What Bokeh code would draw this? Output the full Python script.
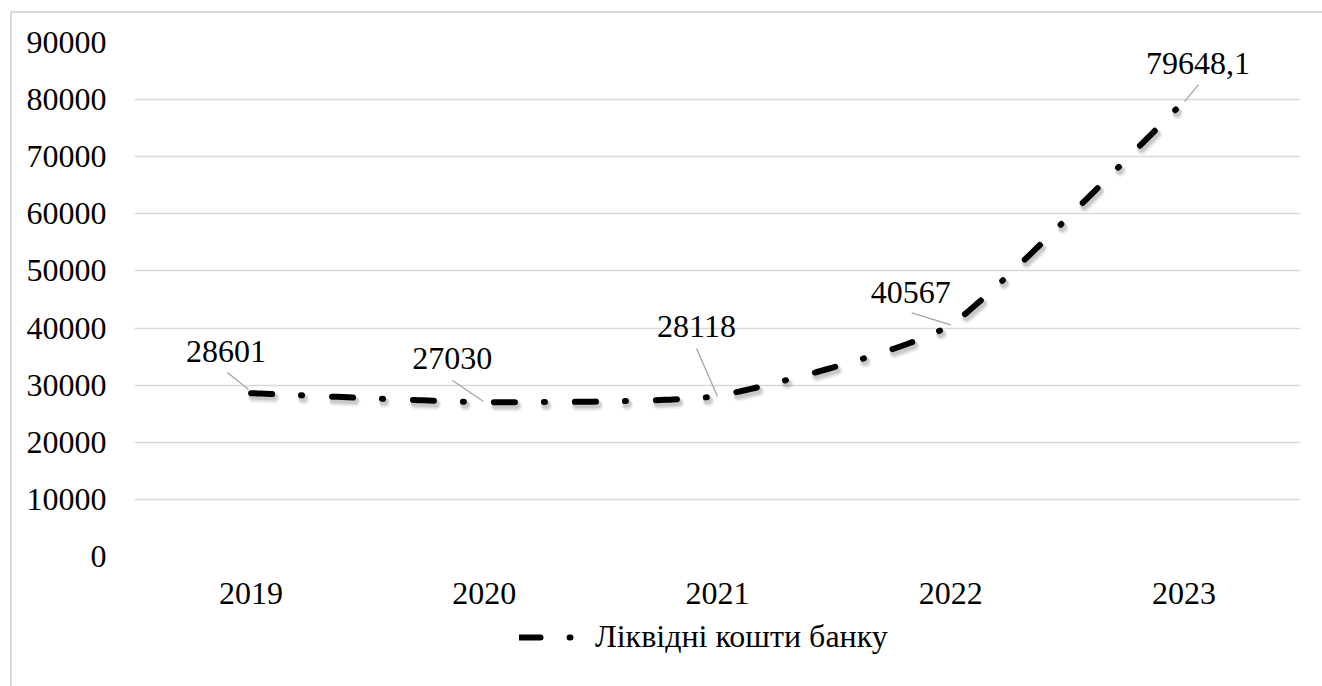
import numpy as np
from bokeh.plotting import figure
from bokeh.layouts import column
from bokeh.models import (Range1d, FixedTicker, NumeralTickFormatter, Legend,
                          LegendItem, ColumnDataSource)
from bokeh.core.properties import value
from bokeh.embed import file_html
from bokeh.resources import INLINE

# ---- data -------------------------------------------------------------
years = ["2019", "2020", "2021", "2022", "2023"]
liquid_funds = [28601, 27030, 28118, 40567, 79648.1]
y_ticks = [0, 10000, 20000, 30000, 40000, 50000, 60000, 70000, 80000, 90000]
series_name = "Ліквідні кошти банку"

# ---- label placement (pixels, relative to each point) ------------------
label_dx = [-25, -32, -21, -40, 14]
label_dy = [-42, -44, -69, -32, -38]
leader_from = [(-23.6, -20.7), (-31.8, -21.6), (-21.0, -47.4), (-39.0, -12.0), (14.6, -17.0)]
leader_to = [(-2.6, -3.7), (-0.8, -0.6), (0.0, 0.6), (0.0, 0.0), (0.6, 0.0)]

FONT = "Liberation Serif"
FRAME_W, FRAME_H = 1166, 514
BORDER_L, BORDER_R, BORDER_T, BORDER_B = 122, 22, 29, 60
TOTAL_W = BORDER_L + FRAME_W + BORDER_R
LEGEND_H = 70
X_MIN, X_MAX = -0.5, len(years) - 0.5
Y_MAX = y_ticks[-1]
ux = (X_MAX - X_MIN) / FRAME_W   # data units per screen pixel
uy = Y_MAX / FRAME_H
SMOOTH = 1.0 / 12.0              # length of the Bezier handles

DASH = "21 29 1 30"
LINE_STYLE = dict(line_color="black", line_width=6, line_dash=DASH,
                  line_cap="round", line_join="round")


def smooth_path(xs, ys, n=60):
    """Cubic Bezier smoothing through the points, computed in screen space."""
    pts = np.column_stack([np.asarray(xs, float) / ux, np.asarray(ys, float) / uy])
    out = []
    last = len(pts) - 1
    for i in range(last):
        p0, p1 = pts[max(i - 1, 0)], pts[i]
        p2, p3 = pts[i + 1], pts[min(i + 2, last)]
        c1 = p1 + (p2 - p0) * SMOOTH
        c2 = p2 - (p3 - p1) * SMOOTH
        t = np.linspace(0, 1, n)[:, None]
        if i > 0:
            t = t[1:]
        seg = ((1 - t) ** 3) * p1 + 3 * ((1 - t) ** 2) * t * c1 \
            + 3 * (1 - t) * (t ** 2) * c2 + (t ** 3) * p2
        out.append(seg)
    path = np.vstack(out)
    return path[:, 0] * ux, path[:, 1] * uy


xi = list(range(len(years)))
cx, cy = smooth_path(xi, liquid_funds)

# ---- main chart -------------------------------------------------------
p = figure(frame_width=FRAME_W, frame_height=FRAME_H,
           min_border_left=BORDER_L, min_border_top=BORDER_T,
           min_border_right=BORDER_R, min_border_bottom=BORDER_B,
           x_range=Range1d(X_MIN, X_MAX), y_range=Range1d(0, Y_MAX),
           output_backend="svg", toolbar_location=None,
           background_fill_color="white", border_fill_color="white")
p.outline_line_color = None

p.xaxis.ticker = FixedTicker(ticks=xi)
p.xaxis.major_label_overrides = {i: y for i, y in enumerate(years)}
p.yaxis.ticker = FixedTicker(ticks=y_ticks)
p.yaxis.formatter = NumeralTickFormatter(format="0")
for ax in (p.xaxis[0], p.yaxis[0]):
    ax.axis_line_color = None
    ax.major_tick_line_color = None
    ax.minor_tick_line_color = None
    ax.major_label_text_font = FONT
    ax.major_label_text_font_size = "32px"
    ax.major_label_text_color = "black"
p.yaxis.major_label_standoff = 22
p.xaxis.major_label_standoff = 20

p.xgrid.grid_line_color = None
p.ygrid.grid_line_color = "#d9d9d9"
p.ygrid.grid_line_width = 1.5

# soft shadow under the series line
for w, a, ox, oy in [(11, 0.05, 2.0, 4.0), (9, 0.07, 2.0, 3.5), (7, 0.10, 1.5, 3.0)]:
    p.line(cx + ox * ux, cy - oy * uy, line_color="black", line_alpha=a,
           line_width=w, line_dash=DASH, line_cap="round", line_join="round")

p.line(cx, cy, **LINE_STYLE)

# leader lines from labels to points
p.segment(x0=[x + f[0] * ux for x, f in zip(xi, leader_from)],
          y0=[y - f[1] * uy for y, f in zip(liquid_funds, leader_from)],
          x1=[x + t[0] * ux for x, t in zip(xi, leader_to)],
          y1=[y - t[1] * uy for y, t in zip(liquid_funds, leader_to)],
          line_color="#a6a6a6", line_width=1.3)

# data labels
labels = [("%g" % v).replace(".", ",") for v in liquid_funds]
src = ColumnDataSource(dict(x=xi, y=liquid_funds, text=labels,
                            dx=label_dx, dy=label_dy))
p.text(x="x", y="y", text="text", x_offset="dx", y_offset="dy", source=src,
       text_font=value(FONT), text_font_size="32px", text_color="black",
       text_align="center", text_baseline="middle")

# ---- legend strip under the chart ---------------------------------------
# The strip's ranges leave the series itself out of view; it only feeds the key.
lf = figure(width=TOTAL_W, height=LEGEND_H, x_axis_type=None, y_axis_type=None,
            x_range=Range1d(0, 1), y_range=Range1d(0, 1),
            min_border=0, output_backend="svg", toolbar_location=None,
            background_fill_color="white", border_fill_color="white")
lf.outline_line_color = None
lf.grid.visible = False
key = lf.line(xi, liquid_funds, **LINE_STYLE)

legend = Legend(items=[LegendItem(label=series_name, renderers=[key])],
                location=(385, 31), orientation="horizontal",
                glyph_width=56, glyph_height=30, label_height=30,
                label_standoff=20,
                label_text_font=FONT, label_text_font_size="32px",
                label_text_color="black", border_line_color=None,
                background_fill_alpha=0, padding=0, margin=0, spacing=0)
lf.add_layout(legend, "center")

page = column(p, lf, spacing=0,
              styles={"margin-left": "10px", "margin-top": "11px",
                      "border-left": "2px solid #d9d9d9",
                      "border-top": "2px solid #d9d9d9"})

open("out.html", "w").write(file_html(page, INLINE))
